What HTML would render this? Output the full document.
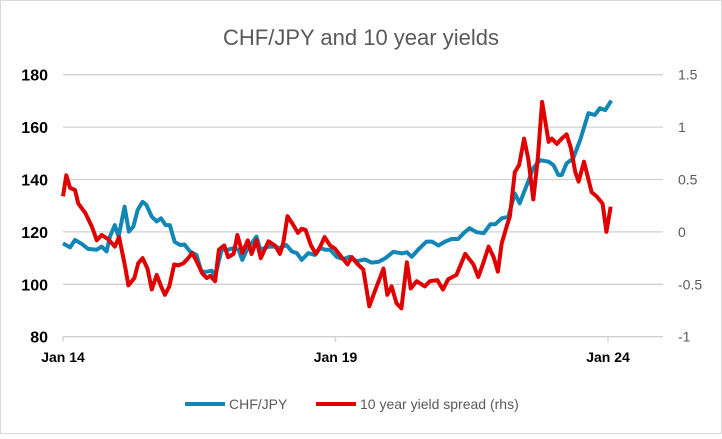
<!DOCTYPE html>
<html><head><meta charset="utf-8"><style>
body{margin:0;background:#fff;}
#c{position:relative;width:722px;height:434px;font-family:"Liberation Sans",sans-serif;}
</style></head><body>
<div id="c">
<svg id="s" width="722" height="434" xmlns="http://www.w3.org/2000/svg">
<rect x="0.5" y="0.5" width="721" height="433" fill="#fff" stroke="#d9d9d9"/>
<text x="361" y="45" text-anchor="middle" font-size="22" fill="#595959">CHF/JPY and 10 year yields</text>
<g id="grid"></g><g id="axes"></g><g id="lines"></g>
<g>
<line x1="185" y1="404" x2="225" y2="404" stroke="#1287b5" stroke-width="4"/>
<text x="229" y="409" font-size="14" fill="#595959">CHF/JPY</text>
<line x1="316" y1="404" x2="356" y2="404" stroke="#e00000" stroke-width="4"/>
<text x="360" y="409" font-size="14" fill="#595959">10 year yield spread (rhs)</text>
</g>
</svg></div>
<script>
const leftTicks=[80,100,120,140,160,180];
const rightTicks=["-1","-0.5","0","0.5","1","1.5"];
const xTickYears=[0,5,10];
const xTickLabels=["Jan 14","Jan 19","Jan 24"];
const chfT=[0,0.13,0.22,0.34,0.46,0.62,0.71,0.8,0.86,0.95,1.02,1.13,1.21,1.29,1.37,1.46,1.53,1.63,1.72,1.8,1.88,1.96,2.05,2.15,2.23,2.33,2.45,2.54,2.64,2.73,2.79,2.91,3.03,3.13,3.22,3.29,3.4,3.46,3.55,3.62,3.77,3.89,3.98,4.1,4.2,4.29,4.38,4.5,4.62,4.72,4.81,4.9,5.02,5.14,5.26,5.39,5.54,5.66,5.79,5.91,6.06,6.22,6.31,6.4,6.52,6.67,6.77,6.89,7.01,7.13,7.25,7.35,7.46,7.59,7.72,7.84,7.93,8.05,8.17,8.29,8.38,8.51,8.63,8.75,8.91,9.0,9.09,9.15,9.24,9.36,9.49,9.64,9.76,9.85,9.95,10.06];
const chfV=[115.6,114.1,116.9,115.5,113.5,113.2,114.4,112.5,118.2,122.6,118.2,129.6,120.1,122,128.4,131.5,130.3,125.8,124,125.2,122.6,122.6,116.2,115,115.2,112.5,111.2,104.8,104.8,105.2,102.9,113.2,113.2,113.8,113.2,109.3,114.4,115.6,118.2,113.2,114.4,114.4,113.8,115,112.5,111.9,109.3,111.9,111.2,113.8,113.2,113.2,110.5,109.6,110.5,108.8,109.5,108.3,108.6,109.9,112.4,111.8,112.2,110.5,113.3,116.3,116.3,114.8,116.3,117.3,117.3,119.5,121.4,119.9,119.5,122.9,122.9,125.2,125.8,134.7,130.9,137.9,144.3,147.4,146.8,145.5,141.7,141.7,146.2,148,155.1,165.3,164.6,167.2,166.5,170.1];
const sprT=[0,0.06,0.13,0.22,0.28,0.41,0.53,0.62,0.71,0.83,0.95,1.03,1.14,1.2,1.31,1.38,1.46,1.55,1.63,1.72,1.8,1.87,1.95,2.04,2.12,2.21,2.3,2.37,2.47,2.56,2.64,2.7,2.79,2.86,2.96,3.03,3.13,3.2,3.29,3.39,3.46,3.55,3.63,3.77,3.89,3.98,4.04,4.12,4.21,4.31,4.38,4.45,4.55,4.64,4.72,4.8,4.9,4.99,5.11,5.22,5.3,5.39,5.51,5.62,5.72,5.88,5.95,6.03,6.12,6.21,6.31,6.38,6.49,6.64,6.73,6.87,6.97,7.07,7.22,7.38,7.53,7.62,7.71,7.81,7.9,7.98,8.05,8.14,8.2,8.29,8.37,8.46,8.54,8.63,8.71,8.79,8.91,8.97,9.06,9.15,9.24,9.32,9.4,9.46,9.56,9.7,9.79,9.9,9.97,10.05];
const sprV=[0.34,0.54,0.42,0.4,0.27,0.18,0.05,-0.08,-0.03,-0.07,-0.14,-0.05,-0.33,-0.51,-0.44,-0.3,-0.25,-0.35,-0.55,-0.41,-0.52,-0.6,-0.52,-0.31,-0.32,-0.3,-0.25,-0.2,-0.3,-0.4,-0.44,-0.42,-0.47,-0.17,-0.13,-0.24,-0.21,-0.03,-0.2,-0.08,-0.21,-0.08,-0.25,-0.09,-0.13,-0.21,-0.11,0.15,0.08,-0.01,0.03,0.02,-0.13,-0.21,-0.14,-0.05,-0.13,-0.16,-0.24,-0.31,-0.24,-0.3,-0.36,-0.71,-0.57,-0.35,-0.6,-0.52,-0.68,-0.73,-0.29,-0.54,-0.47,-0.52,-0.47,-0.46,-0.55,-0.45,-0.41,-0.21,-0.31,-0.43,-0.3,-0.14,-0.24,-0.38,-0.11,0.05,0.15,0.57,0.64,0.89,0.69,0.31,0.69,1.24,0.86,0.89,0.84,0.89,0.93,0.8,0.57,0.48,0.67,0.38,0.34,0.27,0.0,0.24];
const NS="http://www.w3.org/2000/svg";
const X0=63,PXY=54.5,YT=74.7,YB=336.7;
const xS=t=>X0+t*PXY;
const yL=v=>YB-(v-80)/100*(YB-YT);
const yR=v=>YB-(v+1)/2.5*(YB-YT);
function mk(tag,attrs,parent,txt){const e=document.createElementNS(NS,tag);for(const k in attrs)e.setAttribute(k,attrs[k]);if(txt!==undefined)e.textContent=txt;parent.appendChild(e);return e;}
const grid=document.getElementById('grid'),axes=document.getElementById('axes'),lines=document.getElementById('lines');
leftTicks.forEach((v,i)=>{
  const y=yL(v);
  if(i>0){const g=mk('line',{x1:X0,x2:663,y1:y,y2:y,stroke:'#d0d0d0','stroke-width':1.3},grid);
  
  }
  const t=mk('text',{x:48,y:y+6,'text-anchor':'end','font-size':16,'font-weight':'bold',fill:'#000'},axes,String(v));
  
  
  const r=mk('text',{x:678,y:y+5,'font-size':14,fill:'#595959'},axes,rightTicks[i]);
  
  
});
const ax=mk('line',{x1:X0,x2:663,y1:YB,y2:YB,stroke:'#d0d0d0','stroke-width':1.3},axes);


xTickYears.forEach((yr,i)=>{
  const x=xS(yr);
  const tk=mk('line',{x1:x,x2:x,y1:YB,y2:YB+5,stroke:'#d0d0d0','stroke-width':1.3},axes);
  
  
  const t=mk('text',{x:x,y:362,'text-anchor':'middle','font-size':14,'font-weight':'bold',fill:'#000'},axes,xTickLabels[i]);
  
  
});
function path(T,V,ys){return T.map((t,i)=>(i?'L':'M')+xS(t).toFixed(1)+','+ys(V[i]).toFixed(1)).join('');}
const pb=mk('path',{d:path(chfT,chfV,yL),fill:'none',stroke:'#1287b5','stroke-width':4,'stroke-linejoin':'round'},lines);


const pr=mk('path',{d:path(sprT,sprV,yR),fill:'none',stroke:'#e00000','stroke-width':4,'stroke-linejoin':'round'},lines);


</script>
</body></html>
